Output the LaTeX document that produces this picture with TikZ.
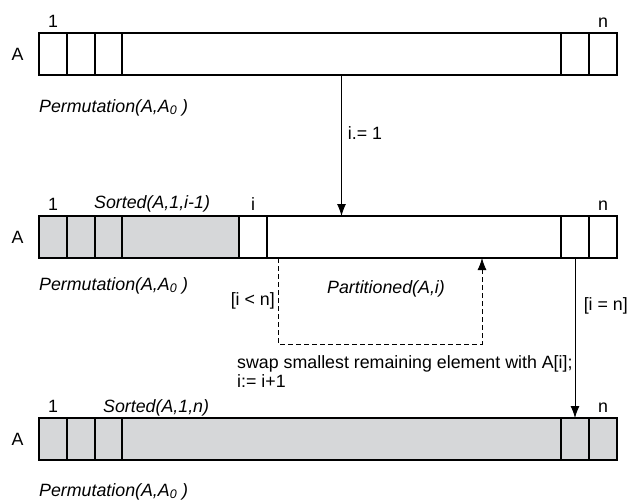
\documentclass[tikz,border=0pt]{standalone}
\usepackage{fontspec}
\setmainfont{Liberation Sans}
\usetikzlibrary{positioning,calc,arrows.meta}
\definecolor{sortgray}{RGB}{214,215,217}

\begin{document}
\begin{tikzpicture}[x=1pt, y=-1pt, node distance=0pt, >={Latex[length=12pt,width=9pt]},
  every node/.style={font=\fontsize{17.8}{19}\selectfont},
  cell/.style={draw, line width=1.1pt, minimum width=28pt, minimum height=42pt, inner sep=0pt, outer sep=0pt},
  done/.style={cell, fill=sortgray},
  lbl/.style={inner sep=0pt}]

  \useasboundingbox (0,0) rectangle (629,503);

  % First row
  \node[cell, anchor=north west] (A1) at (39,33) {};
  \node[cell, right=of A1] (A2) {};
  \node[cell, right=of A2, minimum width=27pt] (A3) {};
  \node[cell, right=of A3, minimum width=439pt] (A4) {};
  \node[cell, right=of A4] (A5) {};
  \node[cell, right=of A5] (A6) {};

  % Second row
  \node[done, anchor=north west] (B1) at (39,216) {};
  \node[done, right=of B1] (B2) {};
  \node[done, right=of B2, minimum width=27pt] (B3) {};
  \node[done, right=of B3, minimum width=117pt] (B4) {};
  \node[cell, right=of B4] (B5) {};
  \node[cell, right=of B5, minimum width=294pt] (B6) {};
  \node[cell, right=of B6] (B7) {};
  \node[cell, right=of B7] (B8) {};

  % Third row
  \node[done, anchor=north west] (C1) at (39,418) {};
  \node[done, right=of C1] (C2) {};
  \node[done, right=of C2, minimum width=27pt] (C3) {};
  \node[done, right=of C3, minimum width=439pt] (C4) {};
  \node[done, right=of C4] (C5) {};
  \node[done, right=of C5] (C6) {};

  % Labels
  \node[left=12pt of A1] (nameA) {A};
  \node[left=12pt of B1] (nameB) {A};
  \node[left=12pt of C1] (nameC) {A};
  \node[above=2pt of A1] (firstA) {1};
  \node[above=2pt of B1] (firstB) {1};
  \node[above=2pt of C1] (firstC) {1};
  \node[above=2pt of A6] (lastA) {n};
  \node[above=2pt of B8] (lastB) {n};
  \node[above=2pt of C6] (lastC) {n};
  \node[above=2pt of B5] (idxB) {i};
  \node[lbl, anchor=base west] (sortB) at (94,208) {\textit{Sorted(A,1,i-1)}};
  \node[lbl, anchor=base west] (sortC) at (103,412) {\textit{Sorted(A,1,n)}};
  \node[lbl, anchor=base west] (permA) at (39,112) {\textit{Permutation(A,A\textsubscript{0} )}};
  \node[lbl, anchor=base west] (permB) at (39,290) {\textit{Permutation(A,A\textsubscript{0} )}};
  \node[lbl, anchor=base west] (permC) at (39,496) {\textit{Permutation(A,A\textsubscript{0} )}};
  \node[lbl, anchor=base] (partB) at (386,293) {\textit{Partitioned(A,i)}};
  \node[lbl, anchor=base east] (less) at (275,305) {[i < n]};
  \node[lbl, anchor=base east] (equal) at (628,310) {[i = n]};
  \node[lbl, anchor=base west, align=left] (swap) at (237,387) {swap smallest remaining element with A[i];\\ i:= i+1};

  % Initial step
  \draw[->, line width=0.9pt] (A4.south) -- (A4.south |- B6.north) node[pos=0.41, right=6pt, lbl] (init) {i.= 1};

  % Loop back
  \coordinate (loopS) at ($(B6.south west)+(11,0)$);
  \coordinate (loopE) at ($(B6.south west)+(215,0)$);
  \draw[->, line width=0.9pt, dash pattern=on 5pt off 3pt] (loopS) -- ++(0,86) -| (loopE);

  % Exit
  \draw[->, line width=0.9pt] (B7.south) -- (C5.north);

\end{tikzpicture}
\end{document}
